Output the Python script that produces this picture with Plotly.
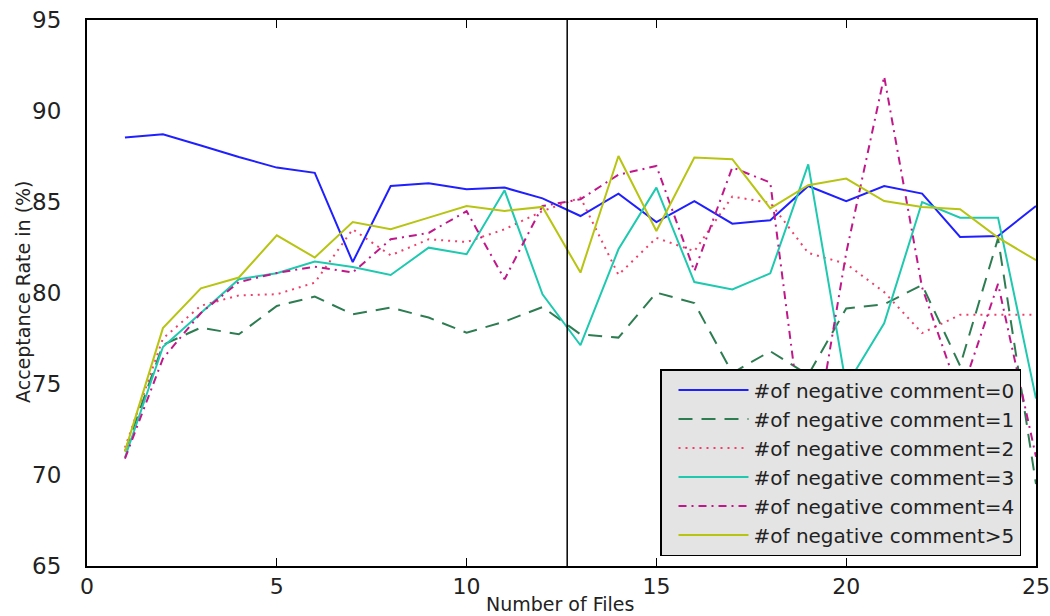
import plotly.graph_objects as go

files = list(range(1, 26))

neg0 = [88.54, 88.72, 88.1, 87.47, 86.89, 86.6, 81.7, 85.88, 86.03, 85.7, 85.79, 85.2, 84.23,
        85.46, 83.9, 85.05, 83.81, 84.0, 85.88, 85.05, 85.88, 85.46, 83.08, 83.13, 84.78]
neg1 = [71.3, 77.15, 78.1, 77.73, 79.29, 79.8, 78.83, 79.2, 78.65, 77.82, 78.43, 79.23, 77.73,
        77.55, 80.02, 79.45, 75.6, 76.8, 75.5, 79.15, 79.38, 80.44, 76.0, 83.0, 69.5]
neg2 = [71.5, 77.5, 79.3, 79.87, 79.93, 80.57, 83.5, 82.07, 82.95, 82.8, 83.5, 84.5, 85.24,
        81.0, 83.03, 82.3, 85.3, 84.95, 82.2, 81.6, 80.05, 77.8, 78.8, 78.8, 78.8]
neg3 = [70.96, 77.03, 78.9, 80.76, 81.09, 81.73, 81.43, 80.99, 82.49, 82.13, 85.64, 79.93, 77.13,
        82.4, 85.79, 80.6, 80.2, 81.08, 87.07, 74.9, 78.33, 85.0, 84.14, 84.14, 74.2]
neg4 = [70.9, 76.4, 78.9, 80.6, 81.1, 81.45, 81.13, 82.95, 83.3, 84.5, 80.75, 84.78, 85.15,
        86.5, 86.98, 81.2, 86.9, 86.07, 69.8, 82.2, 91.9, 80.3, 74.3, 80.5, 71.0]
neg5 = [71.3, 78.07, 80.26, 80.85, 83.17, 81.95, 83.9, 83.5, 84.14, 84.78, 84.51, 84.73, 81.12,
        87.53, 83.41, 87.44, 87.35, 84.65, 85.92, 86.29, 85.05, 84.73, 84.6, 83.04, 81.8]

names = ["#of negative comment=0", "#of negative comment=1", "#of negative comment=2",
         "#of negative comment=3", "#of negative comment=4", "#of negative comment>5"]
series = [neg0, neg1, neg2, neg3, neg4, neg5]
colors = ["#1f1fff", "#2e7d52", "#f0406a", "#1fc9b0", "#c0188a", "#b8c412"]
dashes = ["solid", "14px,9px", "2px,5px", "solid", "8px,5px,2px,5px", "solid"]

x_ticks = [0, 5, 10, 15, 20, 25]
y_ticks = [65, 70, 75, 80, 85, 90, 95]
x_range = [0, 25]
y_range = [65, 95]
split_x = 12.65

fig = go.Figure()
for nm, ys, c, d in zip(names, series, colors, dashes):
    fig.add_trace(go.Scatter(
        x=files, y=ys, mode="lines", name=nm,
        line=dict(color=c, width=2, dash=d),
    ))

fig.add_shape(type="line", xref="x", yref="paper", x0=split_x, x1=split_x, y0=0, y1=1,
              line=dict(color="black", width=1.5))

tick_font = dict(family="DejaVu Sans", size=22, color="#222222")

fig.update_layout(
    width=1050, height=616,
    margin=dict(l=87, r=14, t=20, b=50, autoexpand=False),
    paper_bgcolor="white", plot_bgcolor="white",
    xaxis=dict(range=x_range, tickvals=x_ticks, showgrid=False, zeroline=False,
               showline=True, linecolor="black", linewidth=2, mirror="ticks",
               ticks="inside", ticklen=8, tickwidth=1, tickcolor="black",
               tickfont=tick_font, automargin=False),
    yaxis=dict(range=y_range, tickvals=y_ticks, showgrid=False, zeroline=False,
               showline=True, linecolor="black", linewidth=2, mirror=True,
               ticks="outside", ticklen=19, tickcolor="rgba(0,0,0,0)",
               tickfont=dict(family="DejaVu Sans", size=23, color="#222222"),
               automargin=False),
    yaxis2=dict(range=y_range, tickvals=y_ticks, overlaying="y", anchor="x", side="left",
                showgrid=False, zeroline=False, showline=False, showticklabels=False,
                mirror="ticks", ticks="inside", ticklen=8, tickwidth=1, tickcolor="black",
                automargin=False),
    legend=dict(
        x=(1021 - 87) / 949, xanchor="right", y=(566 - 556) / 546, yanchor="bottom",
        bgcolor="#e4e4e4", bordercolor="black", borderwidth=1.5,
        font=dict(family="DejaVu Sans", size=20, color="#222222"),
        itemwidth=70, indentation=12,
    ),
    showlegend=True,
    annotations=[
        dict(text="Acceptance Rate in (%)", xref="paper", yref="paper", x=-0.0674, y=0.502,
             xanchor="center", yanchor="middle", textangle=-90, showarrow=False,
             font=dict(family="DejaVu Sans", size=19, color="#222222")),
        dict(text="Number of Files", xref="paper", yref="paper", x=0.498, y=-0.0696,
             xanchor="center", yanchor="middle", showarrow=False,
             font=dict(family="DejaVu Sans", size=19, color="#222222")),
    ],
)

fig.write_html("out.html")
